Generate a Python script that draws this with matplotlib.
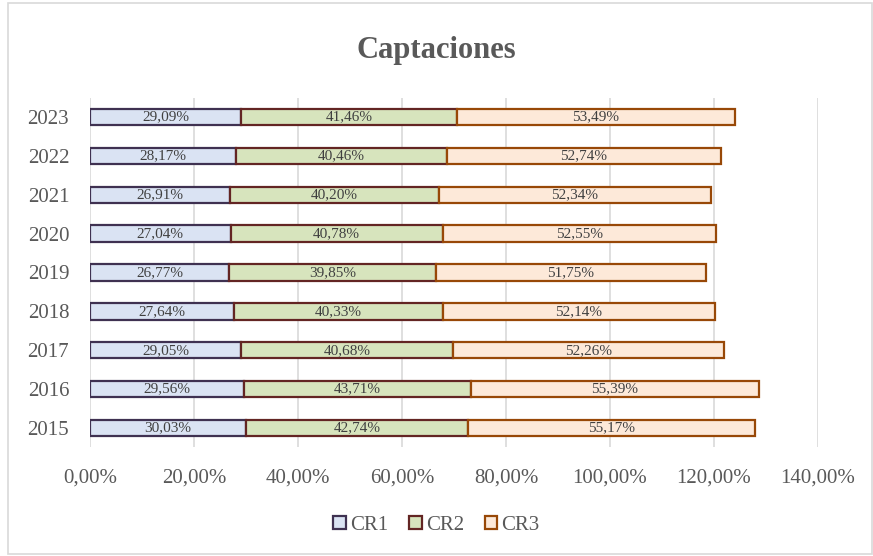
import matplotlib.pyplot as plt
import numpy as np
from matplotlib.patches import Rectangle

plt.rcParams['font.family'] = ['Liberation Serif', 'DejaVu Serif']

anios = ['2015', '2016', '2017', '2018', '2019', '2020', '2021', '2022', '2023']
cr1 = [30.03, 29.56, 29.05, 27.64, 26.77, 27.04, 26.91, 28.17, 29.09]
cr2 = [42.74, 43.71, 40.68, 40.33, 39.85, 40.78, 40.20, 40.46, 41.46]
cr3 = [55.17, 55.39, 52.26, 52.14, 51.75, 52.55, 52.34, 52.74, 53.49]

gris = '#595959'

fig = plt.figure(figsize=(8.73, 5.56), dpi=100)
ax = fig.add_axes([0.1031, 0.1953, 0.8339, 0.6292])

y = np.arange(len(anios))
alto = 0.42
series = [
    ('CR1', cr1, '#DAE3F3', '#3F3151'),
    ('CR2', cr2, '#D7E4BD', '#632523'),
    ('CR3', cr3, '#FDE9D9', '#984807'),
]
izq = np.zeros(len(anios))
for nombre, vals, relleno, borde in series:
    vals = np.array(vals)
    ax.barh(y, vals, left=izq, height=alto, color=relleno,
            edgecolor=borde, linewidth=1.6, label=nombre, zorder=3)
    for xi, yi, v in zip(izq + vals / 2, y, vals):
        ax.text(xi, yi, f'{v:.2f}%'.replace('.', ','), ha='center', va='center',
                fontsize=11, color='#404040', zorder=4)
    izq = izq + vals

ax.set_xlim(0, 140)
ax.set_ylim(-0.5, len(anios) - 0.5)
ax.set_xticks(np.arange(0, 141, 20))
ax.set_xticklabels([f'{t:.2f}%'.replace('.', ',') for t in np.arange(0, 141, 20)])
ax.set_yticks(y)
ax.set_yticklabels(anios)
ax.tick_params(axis='both', length=0, labelsize=15, colors=gris)
ax.tick_params(axis='x', pad=15)
ax.tick_params(axis='y', pad=15)
ax.grid(axis='x', color='#D9D9D9', linewidth=1.2, zorder=0)
for s in ax.spines.values():
    s.set_visible(False)

fig.text(0.5, 0.91, 'Captaciones', ha='center', va='center', fontsize=22,
         fontweight='bold', color=gris)

fig.legend(loc='center', bbox_to_anchor=(0.5, 0.055), ncol=3, frameon=False,
           fontsize=15, labelcolor=gris, handlelength=0.6, handleheight=0.6,
           handletextpad=0.2, columnspacing=1.0)

fig.patches.append(Rectangle((0.009, 0.004), 0.99, 0.99, transform=fig.transFigure,
                             fill=False, edgecolor='#D9D9D9', linewidth=1.2))

fig.savefig('out.png', dpi=100)
